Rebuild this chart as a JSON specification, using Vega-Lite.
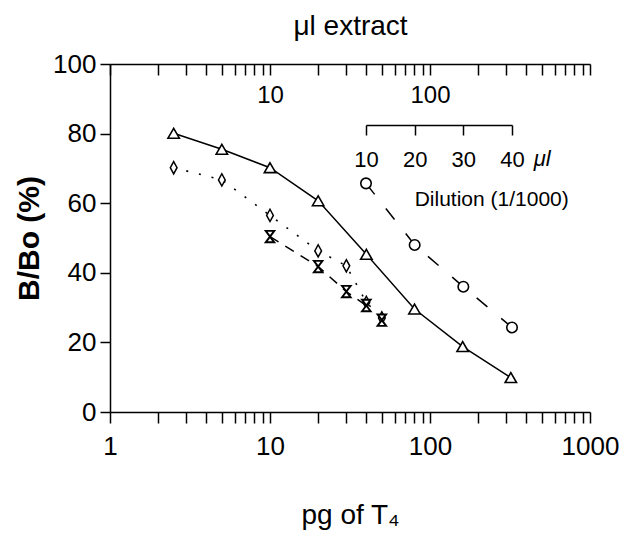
{
  "$schema": "https://vega.github.io/schema/vega-lite/v6.json",
  "width": 480,
  "height": 348,
  "autosize": {"type": "none"},
  "padding": {"left": 110, "top": 64, "right": 39, "bottom": 137},
  "config": {
    "view": {"stroke": null},
    "font": "Liberation Sans",
    "axis": {"domainColor": "black", "tickColor": "black", "labelColor": "black", "titleColor": "black", "domainWidth": 1.5, "tickWidth": 1.5, "grid": false, "labelFont": "Liberation Sans", "titleFont": "Liberation Sans"}
  },
  "datasets": {
    "std": [
      {"series": "A", "pg": 2.5, "bb": 80.1},
      {"series": "A", "pg": 5, "bb": 75.5},
      {"series": "A", "pg": 10, "bb": 70.2},
      {"series": "A", "pg": 20, "bb": 60.7},
      {"series": "A", "pg": 40, "bb": 45.3},
      {"series": "A", "pg": 80, "bb": 29.6},
      {"series": "A", "pg": 160, "bb": 18.8},
      {"series": "A", "pg": 320, "bb": 9.9},
      {"series": "B", "pg": 2.5, "bb": 70.2},
      {"series": "B", "pg": 5, "bb": 66.7},
      {"series": "B", "pg": 10, "bb": 56.5},
      {"series": "B", "pg": 20, "bb": 46.3},
      {"series": "B", "pg": 30, "bb": 42.0},
      {"series": "B", "pg": 40, "bb": 31.5},
      {"series": "B", "pg": 50, "bb": 27.0},
      {"series": "C", "pg": 10, "bb": 50.4},
      {"series": "C", "pg": 20, "bb": 41.8},
      {"series": "C", "pg": 30, "bb": 34.6},
      {"series": "C", "pg": 40, "bb": 30.6},
      {"series": "C", "pg": 50, "bb": 26.4}
    ],
    "dil": [
      {"ul": 10, "bb": 65.7},
      {"ul": 20, "bb": 48.0},
      {"ul": 30, "bb": 36.0},
      {"ul": 40, "bb": 24.3}
    ],
    "notes": [
      {"ul": 20, "bb": 60.9, "label": "Dilution  (1/1000)", "kind": "dil"},
      {"ul": 46.2, "bb": 72.7, "label": "μl", "kind": "unit"}
    ]
  },
  "layer": [
    {
      "data": {"name": "std"},
      "encoding": {
        "x": {"field": "pg", "type": "quantitative",
          "scale": {"type": "log", "domain": [1, 1000], "nice": false},
          "axis": {"orient": "bottom", "title": "pg of T₄", "titleFontSize": 28, "titleFontWeight": "normal", "titleY": 103, "titleBaseline": "middle",
            "values": [1,2,3,4,5,6,7,8,9,10,20,30,40,50,60,70,80,90,100,200,300,400,500,600,700,800,900,1000],
            "format": "d",
            "labelExpr": "indexof([1,10,100,1000], datum.value) >= 0 ? datum.label : ''",
            "tickSize": 11, "labelPadding": 10, "labelFontSize": 26, "labelFlush": false, "labelOverlap": false}},
        "y": {"field": "bb", "type": "quantitative",
          "scale": {"domain": [0, 100], "nice": false},
          "axis": {"title": "B/Bo  (%)", "titleFontSize": 30, "titleFontWeight": "bold", "titleX": -81, "titleBaseline": "middle",
            "values": [0, 20, 40, 60, 80, 100], "tickSize": 10, "labelPadding": 4, "labelFontSize": 26}}
      },
      "layer": [
        {"transform": [{"filter": "datum.series === 'A'"}], "mark": {"type": "line", "color": "black", "strokeWidth": 1.5}},
        {"transform": [{"filter": "datum.series === 'B'"}], "mark": {"type": "line", "color": "black", "strokeWidth": 1.6, "strokeDash": [2, 11]}},
        {"transform": [{"filter": "datum.series === 'C' && datum.pg <= 40"}], "mark": {"type": "line", "color": "black", "strokeWidth": 1.5, "strokeDash": [10, 8]}},
        {"transform": [{"filter": "datum.series === 'A'"}], "mark": {"type": "point", "shape": "triangle-up", "size": 130, "filled": false, "fill": "white", "fillOpacity": 1, "stroke": "black", "strokeWidth": 1.6, "opacity": 1}},
        {"transform": [{"filter": "datum.series === 'B'"}], "mark": {"type": "point", "shape": "M0,-1L0.55,0L0,1L-0.55,0Z", "size": 150, "filled": false, "fill": "white", "fillOpacity": 1, "stroke": "black", "strokeWidth": 1.5, "opacity": 1}},
        {"transform": [{"filter": "datum.series === 'C'"}], "mark": {"type": "point", "shape": "M-0.75,-1L0.75,-1L-0.75,1L0.75,1Z", "size": 130, "filled": false, "fill": "white", "fillOpacity": 1, "stroke": "black", "strokeWidth": 1.9, "opacity": 1}}
      ]
    },
    {
      "data": {"name": "std"},
      "mark": {"type": "point", "opacity": 0},
      "encoding": {
        "x": {"field": "pg", "type": "quantitative",
          "scale": {"type": "log", "domain": [1, 1000], "nice": false},
          "axis": {"orient": "top", "title": "μl extract", "titleFontSize": 28, "titleFontWeight": "normal", "titleY": -38, "titleBaseline": "middle",
            "values": [1,2,3,4,5,6,7,8,9,10,20,30,40,50,60,70,80,90,100,200,300,400,500,600,700,800,900,1000],
            "format": "d",
            "labelExpr": "indexof([10,100], datum.value) >= 0 ? datum.label : ''",
            "tickSize": -11, "labelPadding": -20, "labelBaseline": "middle", "labelFontSize": 24, "labelFlush": false, "labelOverlap": false}},
        "y": {"field": "bb", "type": "quantitative"}
      }
    },
    {
      "encoding": {
        "x": {"field": "ul", "type": "quantitative",
          "scale": {"domain": [10, 40], "range": [256, 402], "nice": false, "zero": false},
          "axis": {"orient": "top", "title": null, "offset": -61, "values": [10, 20, 30, 40],
            "tickSize": -10, "labelPadding": -24, "labelBaseline": "middle", "labelFontSize": 22, "labelFlush": false, "domainWidth": 1.5}},
        "y": {"field": "bb", "type": "quantitative"}
      },
      "layer": [
        {"data": {"name": "dil"}, "mark": {"type": "line", "color": "black", "strokeWidth": 1.5, "strokeDash": [14, 18]}},
        {"data": {"name": "dil"}, "mark": {"type": "point", "shape": "circle", "size": 110, "filled": false, "fill": "white", "fillOpacity": 1, "stroke": "black", "strokeWidth": 1.6, "opacity": 1}},
        {"data": {"name": "notes"}, "transform": [{"filter": "datum.kind === 'dil'"}],
          "mark": {"type": "text", "fontSize": 21, "color": "black", "baseline": "middle", "align": "left"},
          "encoding": {"text": {"field": "label"}}},
        {"data": {"name": "notes"}, "transform": [{"filter": "datum.kind === 'unit'"}],
          "mark": {"type": "text", "fontSize": 22, "color": "black", "baseline": "middle", "align": "center", "fontStyle": "italic"},
          "encoding": {"text": {"field": "label"}}}
      ]
    }
  ],
  "resolve": {"scale": {"x": "independent"}, "axis": {"x": "independent"}}
}
